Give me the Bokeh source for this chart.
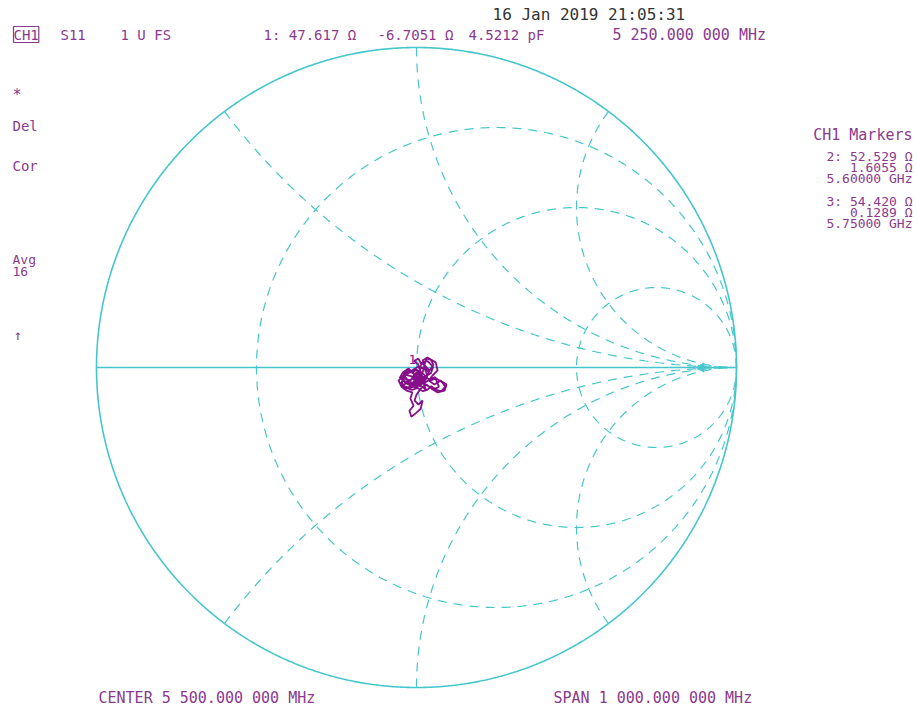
import numpy as np
from bokeh.plotting import figure
from bokeh.models import Label, Range1d
from bokeh.embed import file_html
from bokeh.resources import INLINE

# ---------------- data ----------------
# Smith chart graticule values (normalised impedance)
resistance_circles = [1/3, 1.0, 3.0]
reactance_arcs = [0.5, 1.0, 2.0, -0.5, -1.0, -2.0]

# S11 trace, reflection coefficient (real, imaginary)
trace_re = [-0.044, -0.025, -0.006, -0.019, -0.038, -0.050, -0.031, -0.013, 0.006, 0.019,
            0.025, 0.031, 0.044, 0.053, 0.041, 0.028, 0.019, 0.034, 0.060, 0.066,
            0.050, 0.038, 0.056, 0.075, 0.094, 0.088, 0.066, 0.047, 0.031, 0.013,
            0.000, -0.006, 0.006, 0.019, 0.013, 0.000, -0.016, -0.022, -0.009, -0.019,
            -0.013, -0.031, -0.047, -0.056, -0.041, -0.022, 0.000, 0.016, 0.003, -0.013,
            0.009, 0.022, 0.034, 0.025, 0.006, -0.009, -0.030, -0.045, -0.035, -0.015,
            0.005, 0.020, 0.010, -0.005, -0.025, -0.040, -0.028, -0.010, 0.012, 0.030,
            0.040, 0.028, 0.015, 0.035, 0.052, 0.045, 0.025, 0.008, -0.012, -0.030,
            -0.042, -0.020, 0.002, 0.018, 0.030, 0.022, 0.040, 0.058, 0.070, 0.060,
            0.040, 0.020, 0.005, -0.015, -0.035, -0.048, -0.038, -0.018, 0.000, 0.012,
            0.004, -0.008, 0.006, 0.015, 0.008, 0.024, 0.038, 0.030, 0.016, -0.004,
            -0.020, -0.036, -0.052, -0.044, -0.026, -0.008, 0.010, 0.026, 0.044, 0.062,
            0.080, 0.090, 0.078, 0.060, 0.046, 0.034, 0.020, 0.004, -0.014, -0.032,
            -0.046, -0.040, -0.024, -0.006, 0.014, 0.028, 0.020, 0.004, -0.010, 0.002]
trace_im = [-0.016, -0.003, -0.022, -0.041, -0.034, -0.050, -0.066, -0.053, -0.034, -0.016,
            0.009, 0.028, 0.025, 0.009, -0.009, 0.003, 0.022, 0.031, 0.016, -0.009,
            -0.025, -0.041, -0.053, -0.041, -0.053, -0.072, -0.078, -0.066, -0.053, -0.066,
            -0.085, -0.103, -0.116, -0.103, -0.129, -0.141, -0.154, -0.135, -0.119, -0.097,
            -0.078, -0.072, -0.060, -0.041, -0.025, -0.016, -0.009, -0.025, -0.044, -0.034,
            -0.016, -0.041, -0.025, -0.003, 0.003, -0.006, -0.020, -0.030, -0.048, -0.058,
            -0.050, -0.030, -0.012, -0.020, -0.010, -0.022, -0.040, -0.050, -0.045, -0.032,
            -0.012, 0.005, 0.015, 0.020, 0.002, -0.018, -0.030, -0.026, -0.035, -0.044,
            -0.058, -0.064, -0.056, -0.060, -0.070, -0.050, -0.038, -0.030, -0.060, -0.066,
            -0.060, -0.048, -0.036, -0.028, -0.022, -0.030, -0.042, -0.050, -0.040, -0.010,
            0.012, 0.020, 0.028, 0.010, -0.005, 0.000, -0.014, -0.036, -0.052, -0.062,
            -0.054, -0.046, -0.032, -0.018, -0.008, -0.020, -0.036, -0.028, -0.040, -0.034,
            -0.046, -0.060, -0.074, -0.070, -0.058, -0.070, -0.074, -0.064, -0.070, -0.064,
            -0.048, -0.030, -0.016, -0.004, -0.014, -0.026, -0.044, -0.056, -0.046, -0.028]

ref_arrow_gamma = 0.89

# text content
date_text = "16 Jan 2019  21:05:31"
marker1_texts = ["1: 47.617 Ω", "-6.7051 Ω", "4.5212 pF", "5 250.000 000 MHz"]
marker_panel = ["CH1 Markers", "2: 52.529 Ω", "1.6055 Ω", "5.60000 GHz",
                "3: 54.420 Ω", "0.1289 Ω", "5.75000 GHz"]
center_text = "CENTER 5 500.000 000 MHz"
span_text = "SPAN 1 000.000 000 MHz"

# ---------------- styling ----------------
CYAN = "#45c6cc"
TRACE = "#86108a"
TXT = "#8a3a8e"
DARK = "#333333"
FONT = "DejaVu Sans Mono"

W, H = 917, 710
S = 320.0          # px per unit reflection coefficient
CX, CY = 416, 367  # chart centre in canvas px (from top-left)

p = figure(width=W, height=H, output_backend="svg", toolbar_location=None,
           x_range=Range1d(-CX / S, (W - CX) / S),
           y_range=Range1d(-(H - CY) / S, CY / S),
           x_axis_location=None, y_axis_location=None, min_border=0)
p.grid.visible = False
p.outline_line_color = None
p.background_fill_color = "white"
p.border_fill_color = "white"

t = np.linspace(0, 2 * np.pi, 1441)

# outer circle (r = 0)
p.line(np.cos(t), np.sin(t), line_color=CYAN, line_width=1.6)

# real axis (x = 0)
s = np.linspace(0, np.pi / 2 - 1e-4, 400)
z = np.tan(s) + 0j
g = (z - 1) / (z + 1)
p.line(g.real, g.imag, line_color=CYAN, line_width=1.6)

# constant resistance circles
for r in resistance_circles:
    c = r / (r + 1)
    rad = 1 / (r + 1)
    p.line(c + rad * np.cos(t), rad * np.sin(t), line_color=CYAN,
           line_width=1.2, line_dash="9 7")

# constant reactance arcs
for xv in reactance_arcs:
    z = np.tan(s) + 1j * xv
    g = (z - 1) / (z + 1)
    p.line(g.real, g.imag, line_color=CYAN, line_width=1.2, line_dash="9 7")

# reference arrow
p.scatter([ref_arrow_gamma], [0], marker="triangle", size=9, angle=np.pi / 2,
          fill_color=CYAN, line_color=CYAN)

# trace
p.line(trace_re, trace_im, line_color=TRACE, line_width=1.8)


def lab(text, xp, yp, size, color=TXT, align="left", **kw):
    p.add_layout(Label(x=xp, y=H - yp, x_units="screen", y_units="screen",
                       text=text, text_font=FONT, text_font_size=f"{size}px",
                       text_color=color, text_align=align, text_baseline="middle", **kw))


# top
lab(date_text, 492, 14, 16, DARK)
lab("CH1", 13, 34, 14, border_line_color=TXT, border_line_width=1.2)
lab("S11", 60, 34, 14)
lab("1 U FS", 120, 34, 14)
lab(marker1_texts[0], 263, 34, 14)
lab(marker1_texts[1], 377, 34, 14)
lab(marker1_texts[2], 468, 34, 14)
lab(marker1_texts[3], 612, 34, 15)

# left status
lab("*", 12, 94, 15)
lab("Del", 12, 125, 14)
lab("Cor", 12, 165, 14)
lab("Avg", 12, 259, 13)
lab("16", 12, 271, 13)
lab("↑", 13, 334, 14)

# right marker panel
lab(marker_panel[0], 912, 134, 15, align="right")
panel_y = [156, 167, 178, 201, 212, 223]
for txt, yy in zip(marker_panel[1:], panel_y):
    lab(txt, 912, yy, 13, align="right")

# marker label on trace
lab("1", 408, 359, 13, TRACE)

# bottom
lab(center_text, 98, 697, 15)
lab(span_text, 553, 697, 15)

open("out.html", "w").write(file_html(p, INLINE))
